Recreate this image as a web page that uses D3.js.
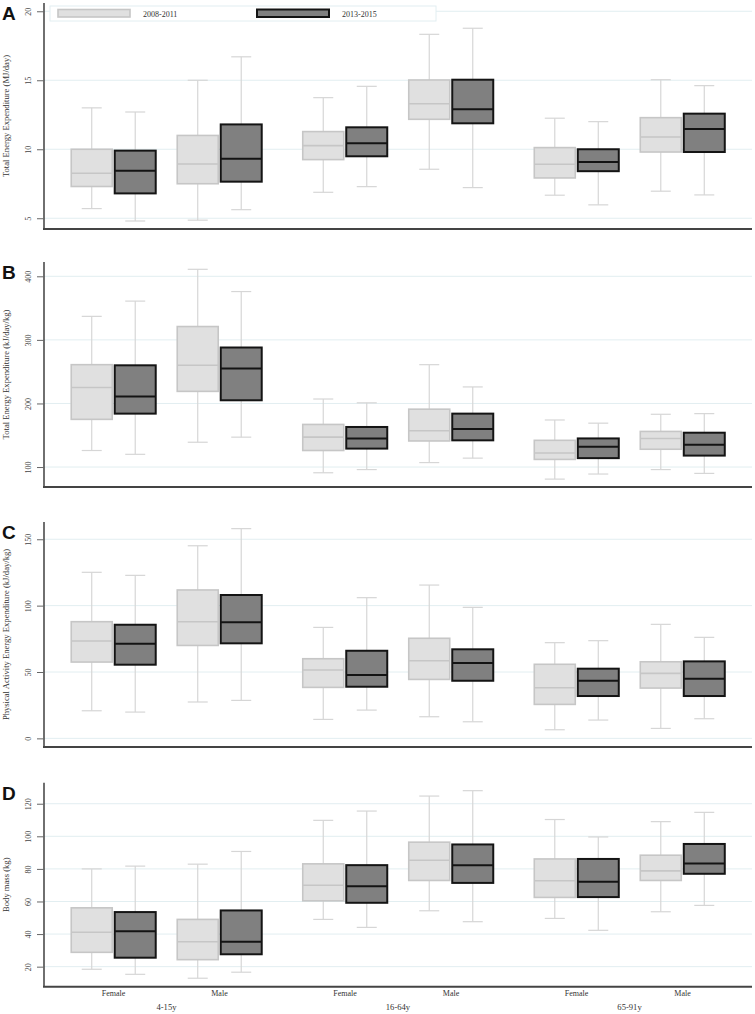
<!DOCTYPE html>
<html><head><meta charset="utf-8">
<script src="https://cdn.jsdelivr.net/npm/d3@7"></script>
<style>body{margin:0;background:#fff}svg{display:block}</style>
</head><body>
<svg id="chart" width="755" height="1014"></svg>
<script>
// ---------- data ----------
const ageGroups = ["4-15y", "16-64y", "65-91y"];
const sexes = ["Female", "Male"];
const periods = ["2008-2011", "2013-2015"];
const panelLetters = ["A", "B", "C", "D"];
const yTitles = [
  "Total Energy Expenditure (MJ/day)",
  "Total Energy Expenditure (kJ/day/kg)",
  "Physical Activity Energy Expenditure (kJ/day/kg)",
  "Body mass (kg)"
];
const yTicksA = [5, 10, 15, 20];
const yTicksB = [100, 200, 300, 400];
const yTicksC = [0, 50, 100, 150];
const yTicksD = [20, 40, 60, 80, 100, 120];

// each row: [lower whisker, Q1, median, Q3, upper whisker]
// order: age group -> sex -> period (2008-2011, 2013-2015)
const teeMJ = [
  [5.7, 7.3, 8.26, 10.0, 13.0], [4.8, 6.8, 8.45, 9.9, 12.7],
  [4.86, 7.5, 8.93, 11.0, 15.0], [5.62, 7.65, 9.32, 11.8, 16.7],
  [6.88, 9.25, 10.26, 11.28, 13.74], [7.29, 9.49, 10.43, 11.59, 14.56],
  [8.55, 12.17, 13.3, 15.02, 18.33], [7.22, 11.88, 12.9, 15.04, 18.77],
  [6.67, 7.92, 8.91, 10.12, 12.25], [5.97, 8.41, 9.08, 10.0, 12.0],
  [6.96, 9.8, 10.89, 12.29, 15.04], [6.69, 9.8, 11.47, 12.58, 14.61]
];
const teeKJkg = [
  [126, 175, 225, 261, 337], [120, 184, 211, 260, 361],
  [139, 219, 260, 321, 411], [147, 205, 255, 288, 376],
  [91, 126, 147, 167, 207], [96, 129, 145, 163, 201],
  [107, 141, 157, 191, 261], [114, 142, 160, 184, 226],
  [81, 112, 122, 142, 174], [89, 114, 132, 145, 169],
  [96, 128, 145, 156, 183], [90, 118, 135, 154, 184]
];
const paeeKJkg = [
  [20.8, 57.5, 73.3, 87.9, 125.1], [19.8, 55.5, 71.3, 85.6, 122.8],
  [27.4, 70.0, 87.9, 111.8, 145.1], [28.6, 71.6, 87.4, 108.0, 158.0],
  [14.3, 38.4, 51.5, 60.0, 83.6], [21.3, 38.9, 47.7, 66.0, 106.0],
  [16.3, 44.4, 58.5, 75.4, 115.5], [12.5, 43.4, 56.7, 67.1, 98.7],
  [6.5, 25.6, 38.1, 55.8, 72.1], [13.8, 31.9, 43.4, 52.5, 73.6],
  [7.5, 37.9, 49.0, 57.7, 85.9], [14.8, 31.9, 44.9, 58.0, 76.1]
];
const bodyMassKg = [
  [18.4, 28.8, 41.1, 56.1, 80.0], [15.3, 25.5, 41.7, 53.5, 81.7],
  [12.9, 24.3, 35.3, 49.0, 82.9], [16.6, 27.6, 35.3, 54.5, 90.7],
  [49.0, 60.4, 70.0, 83.1, 109.8], [44.1, 59.2, 69.4, 82.3, 115.5],
  [54.3, 72.9, 85.3, 96.4, 124.7], [47.6, 71.4, 82.3, 95.0, 128.0],
  [49.6, 62.5, 72.7, 86.1, 110.3], [42.3, 62.7, 72.1, 86.1, 99.6],
  [53.7, 72.9, 78.8, 88.4, 109.0], [57.6, 77.0, 83.3, 95.3, 114.7]
];

// ---------- layout ----------
const svg = d3.select("#chart");
const plotLeft = 44, plotRight = 752;
const panels = [
  {data: teeMJ,     ticks: yTicksA, domain: [4.22, 20.6],  range: [229, 3]},
  {data: teeKJkg,   ticks: yTicksB, domain: [68.6, 422.5], range: [487, 262]},
  {data: paeeKJkg,  ticks: yTicksC, domain: [-6.5, 163],   range: [747, 522]},
  {data: bodyMassKg,ticks: yTicksD, domain: [7.7, 132.9],  range: [986.7, 782.7]}
];

const xAge = d3.scalePoint().domain(ageGroups).range([plotLeft, plotRight]).padding(0.529);
const xSex = d3.scalePoint().domain(sexes).range([-53, 53]);
const xPer = d3.scalePoint().domain(periods).range([-21.75, 21.75]);
const boxW = 41, capW = 20;

const styles = {
  "2008-2011": {fill: "#e0e0e0", stroke: "#c6c6c6", sw: 1.6},
  "2013-2015": {fill: "#808080", stroke: "#141414", sw: 2}
};

// flatten records
function records(data) {
  const out = [];
  let i = 0;
  ageGroups.forEach(a => sexes.forEach(s => periods.forEach(p => {
    const d = data[i++];
    out.push({age: a, sex: s, period: p, lo: d[0], q1: d[1], med: d[2], q3: d[3], hi: d[4]});
  })));
  return out;
}

const serif = "'Liberation Serif','Times New Roman',serif";

panels.forEach((P, pi) => {
  const y = d3.scaleLinear().domain(P.domain).range(P.range);
  const g = svg.append("g");

  // grid
  g.selectAll("line.grid").data(P.ticks).join("line")
    .attr("x1", plotLeft).attr("x2", plotRight)
    .attr("y1", d => y(d)).attr("y2", d => y(d))
    .attr("stroke", "#e2eef1").attr("stroke-width", 1);

  // y axis
  const ax = g.append("g").attr("transform", `translate(${plotLeft},0)`)
    .call(d3.axisLeft(y).tickValues(P.ticks).tickSize(7).tickSizeOuter(0));
  ax.select(".domain").attr("stroke", "#333").attr("stroke-width", 1.4)
    .attr("d", `M0,${P.range[1]}V${P.range[0]}`);
  ax.selectAll(".tick line").attr("stroke", "#666").attr("stroke-width", 1);
  ax.selectAll(".tick text")
    .attr("transform", "rotate(-90)")
    .attr("x", 0).attr("y", -13).attr("dy", 0)
    .attr("text-anchor", "middle")
    .attr("fill", "#444")
    .style("font-family", serif).style("font-size", "8px");

  // x axis line
  g.append("line")
    .attr("x1", plotLeft - 1).attr("x2", plotRight)
    .attr("y1", P.range[0]).attr("y2", P.range[0])
    .attr("stroke", "#444").attr("stroke-width", 2);

  // y title
  const ym = (P.range[0] + P.range[1]) / 2;
  g.append("text")
    .attr("transform", `translate(9,${ym}) rotate(-90)`)
    .attr("text-anchor", "middle")
    .attr("fill", "#333")
    .style("font-family", serif).style("font-size", "8.6px")
    .text(yTitles[pi]);

  // panel letter
  g.append("text")
    .attr("x", 2).attr("y", P.range[1] + 17)
    .style("font-family", "'Liberation Sans',Arial,sans-serif")
    .style("font-size", "19px").style("font-weight", "bold")
    .attr("fill", "#111")
    .text(panelLetters[pi]);

  const recs = records(P.data);
  const cx = d => xAge(d.age) + xSex(d.sex) + xPer(d.period);
  const bg = g.selectAll("g.box").data(recs).join("g");

  // whiskers
  bg.append("line")
    .attr("x1", cx).attr("x2", cx)
    .attr("y1", d => y(d.hi)).attr("y2", d => y(d.q3))
    .attr("stroke", "#d6d6d6").attr("stroke-width", 1.2);
  bg.append("line")
    .attr("x1", cx).attr("x2", cx)
    .attr("y1", d => y(d.q1)).attr("y2", d => y(d.lo))
    .attr("stroke", "#d6d6d6").attr("stroke-width", 1.2);
  ["hi", "lo"].forEach(k => {
    bg.append("line")
      .attr("x1", d => cx(d) - capW / 2).attr("x2", d => cx(d) + capW / 2)
      .attr("y1", d => y(d[k])).attr("y2", d => y(d[k]))
      .attr("stroke", "#d6d6d6").attr("stroke-width", 1.2);
  });
  // boxes
  bg.append("rect")
    .attr("x", d => cx(d) - boxW / 2).attr("width", boxW)
    .attr("y", d => y(d.q3)).attr("height", d => y(d.q1) - y(d.q3))
    .attr("fill", d => styles[d.period].fill)
    .attr("stroke", d => styles[d.period].stroke)
    .attr("stroke-width", d => styles[d.period].sw);
  bg.append("line")
    .attr("x1", d => cx(d) - boxW / 2).attr("x2", d => cx(d) + boxW / 2)
    .attr("y1", d => y(d.med)).attr("y2", d => y(d.med))
    .attr("stroke", d => styles[d.period].stroke)
    .attr("stroke-width", d => styles[d.period].sw);

  // x labels on last panel
  if (pi === panels.length - 1) {
    const combos = [];
    ageGroups.forEach(a => sexes.forEach(s => combos.push({age: a, sex: s})));
    g.selectAll("text.sex").data(combos).join("text")
      .attr("x", d => xAge(d.age) + xSex(d.sex))
      .attr("y", 996)
      .attr("text-anchor", "middle").attr("fill", "#333")
      .style("font-family", serif).style("font-size", "8px")
      .text(d => d.sex);
    g.selectAll("text.age").data(ageGroups).join("text")
      .attr("x", d => xAge(d))
      .attr("y", 1010)
      .attr("text-anchor", "middle").attr("fill", "#333")
      .style("font-family", serif).style("font-size", "8.6px")
      .text(d => d);
  }
});

// legend
const lg = svg.append("g");
lg.append("rect").attr("x", 50).attr("y", 6).attr("width", 386).attr("height", 15)
  .attr("fill", "#fff").attr("stroke", "#e2eef1").attr("stroke-width", 1);
const legX = d3.scalePoint().domain(periods).range([58, 257]);
periods.forEach(p => {
  lg.append("rect").attr("x", legX(p)).attr("y", 9.5).attr("width", 72).attr("height", 7.5)
    .attr("fill", styles[p].fill).attr("stroke", styles[p].stroke).attr("stroke-width", styles[p].sw);
  lg.append("text").attr("x", legX(p) + 85).attr("y", 17)
    .attr("fill", "#333")
    .style("font-family", serif).style("font-size", "8px")
    .text(p);
});
</script>
</body></html>
